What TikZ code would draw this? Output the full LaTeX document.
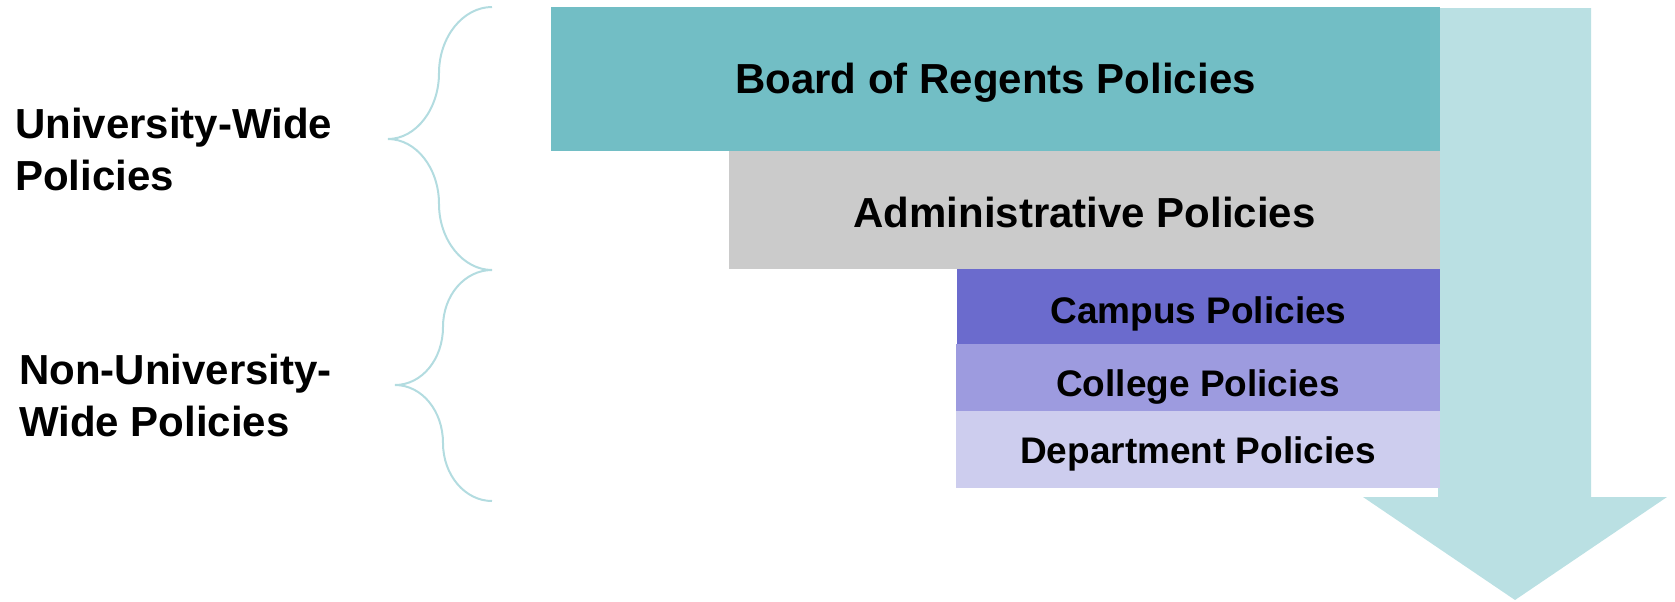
\documentclass[tikz,border=0pt]{standalone}
\usepackage{fontspec}
\setmainfont{Liberation Sans}
\definecolor{boardc}{HTML}{72BEC5}
\definecolor{adminc}{HTML}{CBCBCB}
\definecolor{campusc}{HTML}{6B6BCD}
\definecolor{collegec}{HTML}{9D9BDF}
\definecolor{deptc}{HTML}{CDCDEE}
\definecolor{arrowc}{HTML}{BAE0E3}
\definecolor{bracec}{HTML}{B3DCE0}
\tikzset{
  box/.style={rectangle, inner sep=0pt, outer sep=0pt, draw=none, text depth=0pt},
  bigtext/.style={font=\fontsize{31.5pt}{38pt}\selectfont\bfseries},
  smalltext/.style={font=\fontsize{27.75pt}{33pt}\selectfont\bfseries},
  sidelabel/.style={align=left, inner sep=0pt, anchor=base west, font=\fontsize{31.5pt}{39pt}\selectfont\bfseries},
  bracestyle/.style={draw=bracec, line width=1.5pt},
}
\begin{document}
\begin{tikzpicture}[x=0.75pt, y=-0.75pt]
\useasboundingbox (0,0) rectangle (1675,601);
% arrow behind boxes
\fill[arrowc] (1438,8) -- (1591,8) -- (1591,497) -- (1667,497) -- (1515,600) -- (1363,497) -- (1438,497) -- cycle;
% boxes
\node[box, bigtext, fill=boardc, minimum width=666.75pt, minimum height=108pt, text height=21.05pt] (board) at (995.5,79) {Board of Regents Policies};
\node[box, bigtext, fill=adminc, minimum width=533.25pt, minimum height=88.5pt, text height=25.55pt] (admin) at (1084.5,210) {Administrative Policies};
\node[box, smalltext, fill=campusc, minimum width=362.25pt, minimum height=56.25pt, text height=25.1pt] (campus) at (1198.5,306.5) {Campus Policies};
\node[box, smalltext, fill=collegec, minimum width=363pt, minimum height=50.25pt, text height=28.9pt] (college) at (1198,377.5) {College Policies};
\node[box, smalltext, fill=deptc, minimum width=363pt, minimum height=57.75pt, text height=21.4pt] (dept) at (1198,449.5) {Department Policies};
% braces
\coordinate (b1top) at (492,7);
\coordinate (b1tip) at (388,139);
\coordinate (b1bot) at (492,270);
\draw[bracestyle] (b1top) .. controls (463,7) and (439,37) .. (439,73)
  .. controls (439,109) and (416,139) .. (b1tip)
  .. controls (416,139) and (439,168) .. (439,204)
  .. controls (439,240) and (463,270) .. (b1bot);
\coordinate (b2top) at (492,270);
\coordinate (b2tip) at (395,385);
\coordinate (b2bot) at (492,501);
\draw[bracestyle] (b2top) .. controls (465,270) and (443,295) .. (443,327)
  .. controls (443,359) and (422,385) .. (b2tip)
  .. controls (422,385) and (443,411) .. (443,443)
  .. controls (443,475) and (465,501) .. (b2bot);
% side labels (base anchor = last line baseline)
\node[sidelabel] (uw) at (15,190) {University-Wide\\Policies};
\node[sidelabel] (nuw) at (19,436) {Non-University-\\Wide Policies};
\end{tikzpicture}
\end{document}
